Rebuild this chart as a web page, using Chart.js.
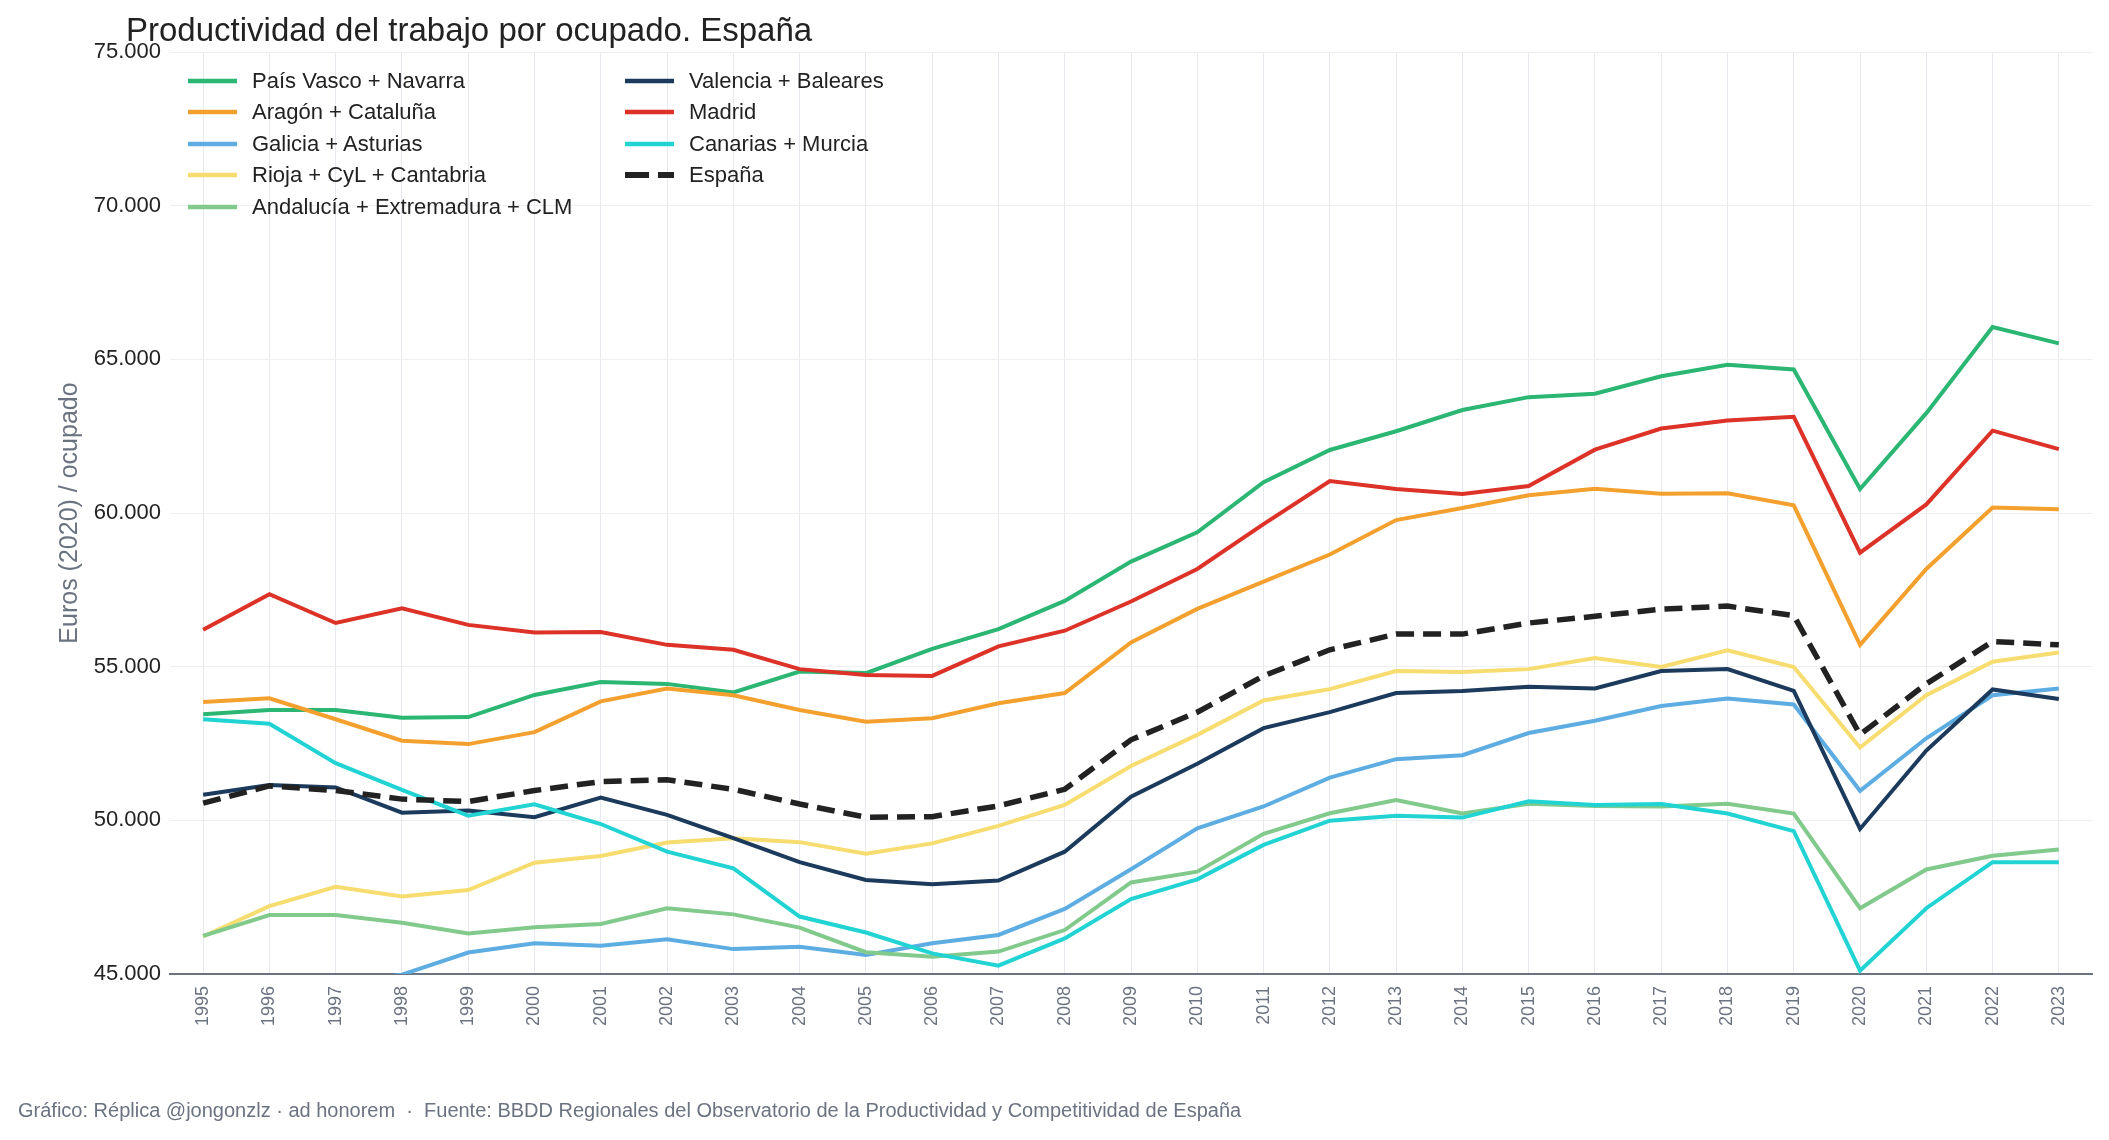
<!DOCTYPE html>
<html lang="es">
<head>
<meta charset="utf-8">
<title>Productividad del trabajo por ocupado. España</title>
<script src="https://cdn.jsdelivr.net/npm/chart.js@4.4.1/dist/chart.umd.min.js"></script>
<style>
  body { margin: 0; background: #fff; font-family: "Liberation Sans", Arial, sans-serif; }
  #wrap { position: relative; width: 2109px; height: 1140px; }
  #chart { position: absolute; left: 0; top: 0; width: 2109px; height: 1140px; }
  #title { position: absolute; left: 126px; top: 13px; font-size: 33px; line-height: 33px; color: #222; white-space: nowrap; }
  #footer { position: absolute; left: 18px; top: 1100px; font-size: 20px; line-height: 20px; color: #6b7280; white-space: nowrap; }
  .leg { position: absolute; display: flex; align-items: center; height: 24px; font-size: 22px; color: #222; white-space: nowrap; }
  .leg svg { margin-right: 15px; }
</style>
</head>
<body>
<div id="wrap">
  <div id="chart"><canvas id="c"></canvas></div>
  <div id="title">Productividad del trabajo por ocupado. España</div>
  <div id="legend"></div>
  <div id="footer">Gráfico: Réplica @jongonzlz · ad honorem &nbsp;·&nbsp; Fuente: BBDD Regionales del Observatorio de la Productividad y Competitividad de España</div>
</div>
<script>
// data (euros 2020 por ocupado)
const years = ['1995','1996','1997','1998','1999','2000','2001','2002','2003','2004','2005','2006','2007','2008','2009','2010','2011','2012','2013','2014','2015','2016','2017','2018','2019','2020','2021','2022','2023']

const paisVasco = [53450, 53590, 53590, 53340, 53360, 54080, 54500, 54440, 54160, 54840, 54790, 55580, 56220, 57140, 58420, 59370, 61000, 62050, 62660, 63350, 63770, 63880, 64450, 64820, 64670, 60780, 63250, 66050, 65520]
const aragonCat = [53850, 53970, 53290, 52590, 52480, 52870, 53870, 54290, 54070, 53590, 53210, 53320, 53810, 54140, 55790, 56880, 57770, 58650, 59770, 60160, 60580, 60790, 60630, 60640, 60250, 55710, 58180, 60180, 60120]
const galicia = [44200, 44500, 44700, 44980, 45700, 46000, 45920, 46130, 45810, 45890, 45620, 46000, 46270, 47120, 48410, 49740, 50450, 51390, 51990, 52120, 52840, 53240, 53720, 53960, 53770, 50960, 52670, 54070, 54290]
const rioja = [46220, 47210, 47840, 47520, 47730, 48620, 48840, 49280, 49420, 49290, 48910, 49250, 49820, 50500, 51770, 52780, 53900, 54270, 54860, 54830, 54920, 55280, 54990, 55530, 54990, 52370, 54070, 55160, 55460]
const andalucia = [46240, 46920, 46920, 46670, 46320, 46520, 46630, 47140, 46940, 46510, 45710, 45560, 45730, 46430, 47980, 48330, 49560, 50230, 50660, 50220, 50540, 50470, 50450, 50540, 50220, 47140, 48400, 48850, 49050]
const valencia = [50830, 51150, 51070, 50250, 50320, 50100, 50740, 50180, 49420, 48640, 48060, 47920, 48040, 48980, 50770, 51840, 53000, 53520, 54140, 54210, 54350, 54290, 54860, 54920, 54210, 49720, 52270, 54260, 53950]
const madrid = [56200, 57360, 56420, 56900, 56360, 56110, 56130, 55710, 55550, 54920, 54730, 54700, 55660, 56170, 57120, 58180, 59640, 61040, 60780, 60620, 60880, 62060, 62750, 63010, 63130, 58710, 60280, 62680, 62080]
const canarias = [53290, 53140, 51860, 50990, 50150, 50520, 49880, 48980, 48440, 46870, 46350, 45670, 45270, 46160, 47440, 48080, 49200, 49990, 50150, 50090, 50620, 50500, 50530, 50220, 49650, 45110, 47140, 48640, 48640]
const espana = [50560, 51120, 50970, 50690, 50610, 50970, 51260, 51320, 51010, 50530, 50100, 50120, 50470, 51010, 52620, 53520, 54700, 55550, 56060, 56060, 56420, 56640, 56870, 56970, 56660, 52790, 54440, 55820, 55710]

const series = [
  { label: 'País Vasco + Navarra', data: paisVasco, color: '#2bb673' },
  { label: 'Aragón + Cataluña', data: aragonCat, color: '#f4a02f' },
  { label: 'Galicia + Asturias', data: galicia, color: '#5dade2' },
  { label: 'Rioja + CyL + Cantabria', data: rioja, color: '#f7dc6f' },
  { label: 'Andalucía + Extremadura + CLM', data: andalucia, color: '#82ca8c' },
  { label: 'Valencia + Baleares', data: valencia, color: '#1b3a5c' },
  { label: 'Madrid', data: madrid, color: '#dc3228' },
  { label: 'Canarias + Murcia', data: canarias, color: '#22d3d3' },
  { label: 'España', data: espana, color: '#222222', dashed: true },
]

const fmt = (v) => String(v).replace(/\B(?=(\d{3})+(?!\d))/g, '.')

// legend drawn as html over the chart area
const legend = document.getElementById('legend')
series.forEach((s, i) => {
  const col = i < 5 ? 0 : 1
  const row = i < 5 ? i : i - 5
  const item = document.createElement('div')
  item.className = 'leg'
  item.style.left = (col === 0 ? 188 : 625) + 'px'
  item.style.top = (81 + row * 31.45 - 12) + 'px'
  const w = s.dashed ? 6 : 4.5
  item.innerHTML =
    '<svg width="49" height="10"><line x1="0" y1="5" x2="49" y2="5" stroke="' + s.color +
    '" stroke-width="' + w + '"' + (s.dashed ? ' stroke-dasharray="24 9"' : '') + '/></svg>' +
    '<span>' + s.label + '</span>'
  legend.appendChild(item)
})

const ctx = document.getElementById('c')
new Chart(ctx, {
  type: 'line',
  data: {
    labels: years,
    datasets: series.map((s, i) => ({
      label: s.label,
      data: s.data,
      borderColor: s.color,
      backgroundColor: s.color,
      borderWidth: s.dashed ? 5.5 : 4,
      borderDash: s.dashed ? [18, 9] : [],
      pointRadius: 0,
      tension: 0,
      fill: false,
      order: series.length - i,
    })),
  },
  options: {
    responsive: true,
    maintainAspectRatio: false,
    animation: false,
    layout: { padding: { top: 52, right: 17, bottom: 0, left: 0 } },
    plugins: {
      legend: { display: false },
      title: { display: false },
      tooltip: { enabled: false },
    },
    scales: {
      x: {
        offset: true,
        grid: { offset: false, color: '#e8e9ee', lineWidth: 1, drawTicks: false },
        border: { display: true, color: '#6b7280', width: 2 },
        ticks: {
          autoSkip: false,
          minRotation: 90,
          maxRotation: 90,
          padding: 12,
          color: '#6b7280',
          font: { family: 'Liberation Sans', size: 18 },
        },
        afterFit: (scale) => { scale.height = 166 },
      },
      y: {
        min: 45000,
        max: 75000,
        grid: { color: '#eeeff2', lineWidth: 1, drawTicks: false },
        border: { display: false },
        ticks: {
          stepSize: 5000,
          padding: 9,
          color: '#222',
          font: { family: 'Liberation Sans', size: 22 },
          callback: (v) => fmt(v),
        },
        title: {
          display: true,
          text: 'Euros (2020) / ocupado',
          color: '#6b7280',
          font: { family: 'Liberation Sans', size: 25 },
          padding: { top: 55, bottom: 0 },
        },
        afterFit: (scale) => { scale.width = 170 },
      },
    },
  },
})
</script>
</body>
</html>
